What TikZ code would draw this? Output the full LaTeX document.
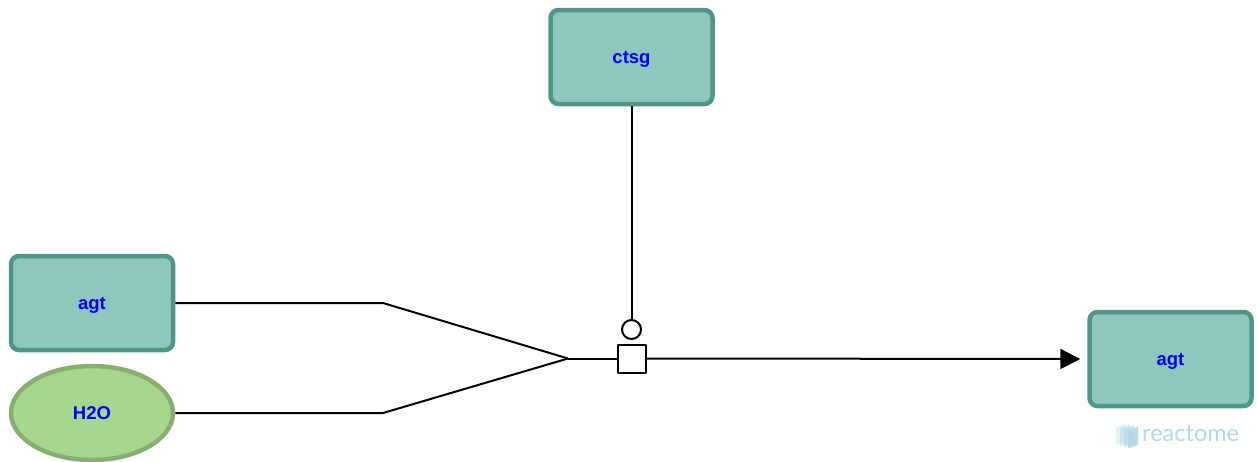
\documentclass[tikz,border=0pt]{standalone}
\usepackage{fontspec}
\setmainfont{Liberation Sans}
\newfontfamily\logofont{Lato}
\definecolor{protfill}{HTML}{8EC7BC}
\definecolor{protdraw}{HTML}{4E9686}
\definecolor{chemfill}{HTML}{A6D78F}
\definecolor{chemdraw}{HTML}{88AE72}
\definecolor{logoblue}{HTML}{B3DAE6}
\usetikzlibrary{shapes.geometric,arrows.meta,positioning}
\tikzset{
  protein/.style={rectangle, rounded corners=8pt, draw=protdraw, fill=protfill, line width=4.5pt,
    minimum width=162pt, minimum height=94pt, text=blue, text depth=0pt, font=\fontsize{18.5}{20}\selectfont\bfseries},
  chemical/.style={ellipse, draw=chemdraw, fill=chemfill, line width=4.5pt,
    minimum width=162pt, minimum height=94pt, text=blue, text depth=0pt, font=\fontsize{18.5}{20}\selectfont\bfseries},
  link/.style={line width=2pt},
}
\begin{document}
\begin{tikzpicture}[x=1pt, y=-1pt, line join=round, >={Triangle[length=20pt,width=20pt]}]
  \useasboundingbox (0,0) rectangle (1257,461);
  \begin{scope}
    \clip (0,0) rectangle (1257,461);
    \node[protein] (ctsg) at (631.5,57) {ctsg};
    \node[protein] (agtin) at (92,303) {agt};
    \node[chemical] (water) at (92,413) {H2O};
    \node[protein] (agtout) at (1170.5,359) {agt};
  \end{scope}
  % reaction
  \node[draw, fill=white, line width=2pt, minimum size=28pt, inner sep=0pt] (rxn) at (631.5,358.5) {};
  \node[circle, draw, fill=white, line width=2pt, minimum size=19pt, inner sep=0pt, above=3.5pt of rxn] (cat) {};
  \coordinate (join) at (568,358.5);
  \draw[link] (agtin.east) -- (383,303) -- (join);
  \draw[link] (water.east) -- (383,413) -- (join);
  \draw[link] (join) -- (rxn.west);
  \draw[link,->,shorten >=7pt] (rxn.east) -- (agtout.west);
  \draw[link] (ctsg.south) -- (cat.north);
  % logo
  \foreach \dx/\op in {0/0.35,4/0.5,8/0.7,12/0.9}
    \fill[logoblue, opacity=\op] (1116+\dx,427+\dx*0.3) -- (1126+\dx,423+\dx*0.3) -- (1126+\dx,441+\dx*0.3) -- (1116+\dx,445+\dx*0.3) -- cycle;
  \node[anchor=west, text=logoblue, font=\logofont\fontsize{23.5}{25}\selectfont, inner sep=0pt] (logo) at (1142,434) {reactome};
\end{tikzpicture}
\end{document}
